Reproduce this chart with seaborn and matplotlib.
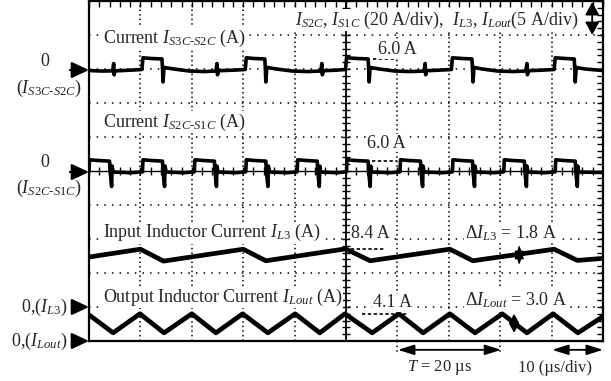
import numpy as np
import pandas as pd
import matplotlib
matplotlib.use("Agg")
import matplotlib.pyplot as plt
import seaborn as sns

# ---------------- data (time in us, currents in A) ----------------
S_SCALE = 20.0   # A/div  (I_S3C-S2C, I_S2C-S1C)
L_SCALE = 5.0    # A/div  (I_L3, I_Lout)
ZERO_S3 = 7.97   # zero level of each channel, in divisions
ZERO_S2 = 4.97
ZERO_L3 = 1.0
ZERO_LO = 0.0

t_s3 = [0.0, 2.5, 4.6, 4.8, 4.9, 5.0, 5.2, 8.0,
        10.3, 10.5, 12.0, 14.2, 14.3, 14.4, 14.6, 16.5, 19.5, 22.5, 24.7, 24.9, 25.0, 25.2, 28.0,
        30.4, 30.6, 32.0, 34.2, 34.3, 34.4, 34.6, 36.5, 39.5, 42.5, 45.1, 45.3, 45.4, 45.6, 48.0,
        49.9, 50.1, 52.0, 54.3, 54.4, 54.5, 54.7, 56.5, 59.5, 62.5, 65.2, 65.4, 65.5, 65.7, 68.0,
        70.5, 70.7, 72.5, 74.5, 74.6, 74.7, 74.9, 76.5, 79.5, 82.5, 85.0, 85.2, 85.3, 85.5, 88.0,
        90.5, 90.7, 92.5, 94.4, 94.5, 94.6, 94.8, 96.5, 100.0]
i_s3 = [-0.3, -0.6, -0.5, 3.8, -2.8, -0.4, -0.5, -0.1,
        0.3, 7.2, 6.8, 6.5, 1.2, -7.0, 1.5, 0.6, -0.6, -0.9, -0.6, 3.8, -2.8, -0.4, -0.1,
        0.3, 7.2, 6.8, 6.5, 1.2, -7.0, 1.5, 0.6, -0.6, -0.9, -0.6, 3.8, -2.8, -0.4, -0.1,
        0.3, 7.2, 6.8, 6.5, 1.2, -7.0, 1.5, 0.6, -0.6, -0.9, -0.6, 3.8, -2.8, -0.4, -0.1,
        0.3, 7.2, 6.8, 6.5, 1.2, -7.0, 1.5, 0.6, -0.6, -0.9, -0.6, 3.8, -2.8, -0.4, -0.1,
        0.3, 7.2, 6.8, 6.5, 1.2, -7.0, 1.5, 0.6, -0.3]

t_s2 = [0.0, 0.1, 1.6, 4.0, 4.1, 4.4, 4.5, 4.7, 8.1,
        10.4, 10.5, 12.0, 14.3, 14.4, 14.7, 14.8, 15.0, 18.5,
        20.5, 20.6, 22.1, 24.4, 24.5, 24.8, 24.9, 25.1, 28.6,
        30.5, 30.6, 32.1, 34.4, 34.5, 34.8, 34.9, 35.1, 38.6,
        40.5, 40.6, 42.1, 44.4, 44.5, 44.8, 44.9, 45.1, 48.2,
        50.1, 50.2, 51.7, 54.3, 54.4, 54.7, 54.8, 55.0, 58.6,
        60.5, 60.6, 62.1, 64.5, 64.6, 64.9, 65.0, 65.2, 68.8,
        70.7, 70.8, 72.3, 74.6, 74.7, 75.0, 75.1, 75.3, 78.8,
        80.7, 80.8, 82.3, 84.7, 84.8, 85.1, 85.2, 85.4, 88.8,
        90.7, 90.8, 92.3, 94.6, 94.7, 95.0, 95.1, 95.3, 100.0]
i_s2 = [0.1, 7.2, 6.8, 6.4, 0.5, -8.5, 3.5, 0.0, -0.4,
        0.1, 7.2, 6.8, 6.4, 0.5, -8.5, 3.5, 0.0, -0.4,
        0.1, 7.2, 6.8, 6.4, 0.5, -8.5, 3.5, 0.0, -0.4,
        0.1, 7.2, 6.8, 6.4, 0.5, -8.5, 3.5, 0.0, -0.4,
        0.1, 7.2, 6.8, 6.4, 0.5, -8.5, 3.5, 0.0, -0.4,
        0.1, 7.2, 6.8, 6.4, 0.5, -8.5, 3.5, 0.0, -0.4,
        0.1, 7.2, 6.8, 6.4, 0.5, -8.5, 3.5, 0.0, -0.4,
        0.1, 7.2, 6.8, 6.4, 0.5, -8.5, 3.5, 0.0, -0.4,
        0.1, 7.2, 6.8, 6.4, 0.5, -8.5, 3.5, 0.0, -0.4,
        0.1, 7.2, 6.8, 6.4, 0.5, -8.5, 3.5, 0.0, -0.3]

t_l3 = [0.0, 10.0, 14.5, 30.0, 34.4, 49.9, 54.7, 70.2, 74.7, 90.5, 95.0, 100.0]
i_l3 = [7.35, 8.5, 6.75, 8.5, 6.8, 8.55, 6.8, 8.5, 6.8, 8.5, 6.85, 7.15]

t_lo = [0.0, 4.7, 9.9, 14.6, 20.0, 24.7, 29.9, 34.8, 40.1, 44.9, 49.8,
        55.1, 60.3, 65.0, 70.2, 75.1, 80.4, 85.2, 90.3, 95.1, 100.0]
i_lo = [3.85, 1.2, 4.0, 1.2, 4.0, 1.2, 4.0, 1.2, 4.0, 1.2, 4.0,
        1.2, 4.0, 1.2, 4.0, 1.2, 4.0, 1.2, 4.0, 1.2, 3.6]

# ---------------- style ----------------
sns.set_theme(style="white")
plt.rcParams["font.family"] = ["Liberation Serif", "DejaVu Serif"]
plt.rcParams["mathtext.fontset"] = "custom"
plt.rcParams["mathtext.rm"] = "Liberation Serif"
plt.rcParams["mathtext.it"] = "Liberation Serif:italic"
plt.rcParams["mathtext.bf"] = "Liberation Serif:bold"

fig = plt.figure(figsize=(6.11, 3.81), dpi=100)
ax = fig.add_axes([89 / 611, 40 / 381, 514 / 611, 340 / 381])
ax.set_xlim(0, 100)
ax.set_ylim(0, 10)

def to_df(t, i, zero, scale):
    return pd.DataFrame({"t": t, "div": zero + np.asarray(i) / scale})

df_s3 = to_df(t_s3, i_s3, ZERO_S3, S_SCALE)
df_s2 = to_df(t_s2, i_s2, ZERO_S2, S_SCALE)
df_l3 = to_df(t_l3, i_l3, ZERO_L3, L_SCALE)
df_lo = to_df(t_lo, i_lo, ZERO_LO, L_SCALE)

# graticule
for xg in range(10, 100, 10):
    if xg != 50:
        ax.axvline(xg, color="black", lw=1.1, ls=(0, (1, 2.0)), zorder=1)
for yg in range(1, 10):
    if yg != 5:
        ax.axhline(yg, color="black", lw=1.1, ls=(0, (1, 4.0)), zorder=1)
ax.axvline(50, color="black", lw=1.3, zorder=1)
ax.axhline(5, color="black", lw=1.0, zorder=1)
ax.plot(np.full(51, 50.0), np.linspace(0, 10, 51), ls="none", marker="_",
        ms=6, mew=1.0, color="black", zorder=1)
ax.plot(np.linspace(0, 100, 51), np.full(51, 5.0), ls="none", marker="|",
        ms=6, mew=1.0, color="black", zorder=1)

# traces
for df, lw in ((df_s3, 2.6), (df_s2, 2.6), (df_l3, 3.4), (df_lo, 3.4)):
    sns.lineplot(data=df, x="t", y="div", color="black", lw=lw, sort=False,
                 estimator=None, ax=ax, zorder=3)

ax.set_xlabel("")
ax.set_ylabel("")
ax.set_xticks(np.arange(0, 101, 2))
ax.set_yticks(np.arange(0, 10.01, 0.2))
ax.tick_params(which="both", direction="in", length=4, width=1.0,
               top=True, right=True, labelbottom=False, labelleft=False,
               color="black")
for sp in ax.spines.values():
    sp.set_color("black")
    sp.set_linewidth(1.6)

box = dict(facecolor="white", edgecolor="none", pad=0.5)
FS = 13

# in-plot labels
ax.text(2.7, 8.91, r"Current $I_{S3C\text{-}S2C}$ (A)", fontsize=FS, va="center", ha="left", bbox=box, zorder=5)
ax.text(2.7, 6.44, r"Current $I_{S2C\text{-}S1C}$ (A)", fontsize=FS, va="center", ha="left", bbox=box, zorder=5)
ax.text(2.7, 3.18, r"Input Inductor Current $I_{L3}$ (A)", fontsize=FS, va="center", ha="left", bbox=box, zorder=5)
ax.text(2.7, 1.29, r"Output Inductor Current $I_{Lout}$ (A)", fontsize=FS, va="center", ha="left", bbox=box, zorder=5)
ax.text(40.1, 9.44, r"$I_{S2C}$, $I_{S1C}$ (20 A/div),  $I_{L3}$, $I_{Lout}$(5 A/div)",
        fontsize=FS, va="center", ha="left", bbox=box, zorder=5)

# level markers
s3_top = ZERO_S3 + 6.5 / S_SCALE
s2_top = ZERO_S2 + 6.4 / S_SCALE
l3_top = ZERO_L3 + max(i_l3) / L_SCALE
lo_top = ZERO_LO + max(i_lo) / L_SCALE
dash = dict(color="black", lw=1.2, ls=(0, (2, 1.5)), zorder=4)
ax.plot([55.3, 59.9], [s3_top, s3_top], **dash)
ax.plot([55.1, 59.9], [s2_top, s2_top], **dash)
ax.plot([49.8, 57.6], [l3_top, l3_top], **dash)
ax.plot([53.1, 61.9], [lo_top, lo_top], **dash)
ax.text(59.9, 8.56, "6.0 A", fontsize=FS, ha="center", va="center", bbox=box, zorder=5)
ax.text(57.9, 5.82, "6.0 A", fontsize=FS, ha="center", va="center", bbox=box, zorder=5)
ax.text(54.7, 3.15, "8.4 A", fontsize=FS, ha="center", va="center", bbox=box, zorder=5)
ax.text(59.0, 1.12, "4.1 A", fontsize=FS, ha="center", va="center", bbox=box, zorder=5)
ax.text(82.1, 3.18, r"Δ$I_{L3}$ = 1.8 A", fontsize=FS, ha="center", va="center", bbox=box, zorder=5)
ax.text(83.1, 1.21, r"Δ$I_{Lout}$ = 3.0 A", fontsize=FS, ha="center", va="center", bbox=box, zorder=5)

# ripple arrows
l3_min = ZERO_L3 + min(i_l3) / L_SCALE
lo_min = ZERO_LO + min(i_lo) / L_SCALE
ax.annotate("", xy=(83.7, l3_top + 0.12), xytext=(83.7, l3_min - 0.12),
            arrowprops=dict(arrowstyle="<|-|>,head_length=0.6,head_width=0.2",
                            color="black", lw=1.0, shrinkA=0, shrinkB=0, mutation_scale=14), zorder=6)
ax.annotate("", xy=(82.7, lo_top), xytext=(82.7, lo_min),
            arrowprops=dict(arrowstyle="<|-|>,head_length=0.45,head_width=0.25",
                            color="black", lw=1.2, shrinkA=0, shrinkB=0, mutation_scale=12), zorder=6)

# top-right div indicator
ax.annotate("", xy=(97.9, 9.97), xytext=(97.9, 9.0), annotation_clip=False,
            arrowprops=dict(arrowstyle="<|-|>,head_length=0.55,head_width=0.3",
                            color="black", lw=1.3, shrinkA=0, shrinkB=0, mutation_scale=14), zorder=6)

# bottom period / time-base arrows
arr = dict(arrowstyle="<|-|>,head_length=0.7,head_width=0.22", color="black", lw=1.3,
           shrinkA=0, shrinkB=0, mutation_scale=14)
ax.annotate("", xy=(60.1, -0.26), xytext=(80.2, -0.26), annotation_clip=False, arrowprops=arr)
ax.annotate("", xy=(90.1, -0.26), xytext=(100.0, -0.26), annotation_clip=False, arrowprops=arr)
for xg in (60, 80):
    ax.plot([xg, xg], [0, -0.36], color="black", lw=1.1, ls=(0, (1, 2.0)), clip_on=False)
ax.text(68.3, -0.79, r"$T$ = 20 µs", fontsize=12, ha="center", va="center")
ax.text(90.7, -0.79, "10 (µs/div)", fontsize=12, ha="center", va="center")

# zero-level markers on the left
zarr = dict(arrowstyle="-|>,head_length=0.75,head_width=0.35", color="black", lw=1.6,
            shrinkA=0, shrinkB=0, mutation_scale=14)
for z, x0 in ((ZERO_S3, -3.7), (ZERO_S2, -3.7), (ZERO_L3, -3.3), (ZERO_LO, -3.3)):
    ax.annotate("", xy=(0, z), xytext=(x0, z), annotation_clip=False, arrowprops=zarr)
ax.text(-8.56, 8.21, "0", fontsize=FS, ha="center", va="center")
ax.text(-7.8, 7.44, r"($I_{S3C\text{-}S2C}$)", fontsize=FS, ha="center", va="center")
ax.text(-8.56, 5.24, "0", fontsize=FS, ha="center", va="center")
ax.text(-7.8, 4.50, r"($I_{S2C\text{-}S1C}$)", fontsize=FS, ha="center", va="center")
ax.text(-4.1, 1.0, r"0,($I_{L3}$)", fontsize=FS, ha="right", va="center")
ax.text(-4.3, 0.0, r"0,($I_{Lout}$)", fontsize=FS, ha="right", va="center")

fig.savefig("out.png", dpi=100)
